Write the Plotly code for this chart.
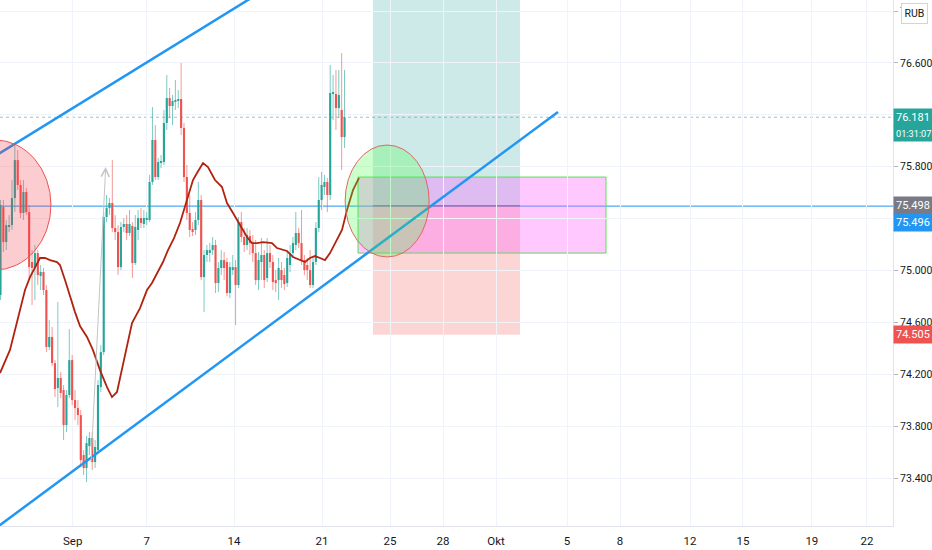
import plotly.graph_objects as go

# ---------------- data (4h candles, USD/RUB) ----------------
opens = [74.811, 75.489, 75.219, 75.335, 75.350, 75.558, 75.851, 75.659, 75.443, 75.605,
         75.450, 75.065, 75.019, 75.134, 74.957, 74.988, 74.849, 74.410, 74.487, 74.286,
         74.094, 74.171, 74.078, 73.808, 74.040, 74.309, 74.001, 73.939, 73.885, 73.577,
         73.477, 73.646, 73.708, 73.523, 73.615, 74.101, 74.371, 75.412, 75.481, 75.520,
         75.327, 75.296, 75.026, 75.335, 75.358, 75.289, 75.343, 75.057, 75.312, 75.404,
         75.358, 75.389, 75.389, 75.682, 76.006, 75.720, 75.828, 75.836, 76.137, 76.329,
         76.268, 76.306, 76.314, 76.322, 76.098, 75.720, 75.443, 75.319, 75.312, 75.389,
         75.543, 74.949, 75.119, 75.142, 75.157, 75.196, 74.903, 75.019, 75.080, 75.065,
         74.826, 75.011, 75.026, 74.888, 75.373, 75.258, 75.196, 75.265, 75.211, 75.134,
         74.926, 75.065, 75.119, 74.942, 75.134, 75.065, 74.926, 74.926, 75.003, 74.965,
         74.903, 75.042, 75.134, 75.196, 75.289, 75.211, 75.080, 75.042, 75.003, 74.888,
         75.065, 75.327, 75.543, 75.643, 75.682, 75.582, 76.368, 76.360, 76.252, 76.237,
         76.029]
highs = [75.543, 75.543, 75.389, 75.427, 75.697, 75.982, 75.928, 75.697, 75.697, 75.636,
         75.504, 75.157, 75.196, 75.157, 75.042, 75.019, 74.888, 74.618, 74.564, 74.309,
         74.757, 74.217, 74.117, 74.078, 74.548, 74.348, 74.078, 74.001, 73.924, 73.615,
         73.723, 73.754, 73.754, 73.693, 74.155, 74.425, 75.450, 75.582, 75.558, 75.851,
         75.427, 75.350, 75.373, 75.404, 75.427, 75.466, 75.373, 75.427, 75.466, 75.481,
         75.466, 75.450, 75.736, 76.260, 76.121, 75.867, 75.890, 76.237, 76.507, 76.407,
         76.353, 76.468, 76.391, 76.599, 76.137, 75.813, 75.582, 75.373, 75.450, 75.682,
         75.582, 75.157, 75.196, 75.211, 75.258, 75.235, 75.065, 75.157, 75.142, 75.096,
         75.065, 75.119, 75.080, 75.412, 75.450, 75.327, 75.327, 75.312, 75.273, 75.235,
         75.142, 75.250, 75.157, 75.250, 75.196, 75.119, 75.003, 75.096, 75.065, 75.019,
         75.142, 75.196, 75.258, 75.450, 75.327, 75.466, 75.119, 75.096, 75.157, 75.096,
         75.373, 75.720, 75.759, 75.736, 75.713, 76.584, 76.507, 76.545, 76.545, 76.676,
         76.545]
lows = [74.772, 75.142, 75.157, 75.296, 75.312, 75.450, 75.620, 75.404, 75.389, 75.427,
        74.926, 74.733, 74.772, 74.888, 74.849, 74.811, 74.371, 74.386, 74.263, 74.024,
        73.947, 74.016, 73.693, 73.754, 74.016, 73.962, 73.847, 73.808, 73.484, 73.423,
        73.369, 73.577, 73.461, 73.477, 73.600, 74.063, 74.348, 75.373, 75.427, 75.296,
        75.235, 74.965, 75.003, 75.296, 75.235, 75.265, 74.942, 75.042, 75.235, 75.327,
        75.327, 75.350, 75.373, 75.659, 75.697, 75.697, 75.790, 75.813, 76.083, 76.175,
        76.121, 76.237, 76.252, 76.044, 75.682, 75.389, 75.258, 75.265, 75.273, 75.350,
        74.926, 74.679, 75.065, 75.065, 75.119, 74.826, 74.834, 74.965, 74.926, 74.803,
        74.787, 74.965, 74.579, 74.865, 75.219, 75.142, 75.157, 75.119, 75.065, 74.888,
        74.849, 74.926, 74.865, 74.911, 75.019, 74.849, 74.834, 74.772, 74.865, 74.849,
        74.872, 74.988, 75.096, 75.157, 75.173, 75.042, 74.965, 74.926, 74.865, 74.865,
        75.042, 75.296, 75.466, 75.582, 75.450, 75.543, 76.160, 76.083, 76.175, 75.774,
        75.944]
closes = [75.504, 75.219, 75.350, 75.350, 75.558, 75.851, 75.659, 75.443, 75.605, 75.450,
          75.026, 75.019, 75.134, 74.965, 74.988, 74.849, 74.410, 74.487, 74.286, 74.086,
          74.171, 74.055, 73.808, 74.040, 74.309, 74.001, 73.939, 73.885, 73.538, 73.477,
          73.669, 73.708, 73.523, 73.639, 74.117, 74.371, 75.412, 75.481, 75.520, 75.327,
          75.296, 75.026, 75.335, 75.358, 75.289, 75.358, 75.057, 75.335, 75.404, 75.366,
          75.404, 75.404, 75.682, 76.006, 75.720, 75.836, 75.844, 76.137, 76.329, 76.268,
          76.306, 76.314, 76.322, 76.098, 75.720, 75.443, 75.312, 75.304, 75.389, 75.543,
          74.949, 75.119, 75.157, 75.157, 75.196, 74.903, 75.019, 75.080, 75.019, 74.826,
          75.026, 75.026, 74.888, 75.373, 75.258, 75.196, 75.273, 75.211, 75.134, 74.926,
          75.080, 75.119, 74.926, 75.134, 75.065, 74.911, 74.903, 75.019, 74.926, 74.895,
          75.096, 75.134, 75.211, 75.289, 75.211, 75.080, 75.003, 75.003, 74.888, 75.065,
          75.327, 75.543, 75.659, 75.682, 75.582, 76.368, 76.376, 76.252, 76.353, 76.029,
          76.181]

# displaced moving average (bar index, price)
ma_x = [-0.17, 3.31, 5.06, 6.80, 8.55, 10.29, 12.03, 13.78, 15.52, 17.27, 19.71, 20.75,
        22.50, 24.24, 25.99, 27.73, 30.17, 32.26, 34.70, 37.15, 38.89, 40.64, 42.38,
        44.12, 45.87, 48.66, 51.10, 52.84, 54.59, 56.68, 58.42, 60.52, 62.61, 65.05,
        67.14, 68.54, 70.63, 72.37, 74.82, 77.26, 79.00, 81.10, 83.54, 85.98, 87.72,
        89.47, 91.56, 94.70, 96.44, 99.93, 102.02, 104.47, 106.21, 107.95, 109.70,
        111.44, 113.19, 114.93, 117.37, 119.11, 120.86, 122.95, 125.04]
ma_y = [74.209, 74.387, 74.541, 74.695, 74.849, 74.949, 75.026, 75.096, 75.096, 75.080,
        75.065, 75.042, 74.926, 74.795, 74.679, 74.571, 74.487, 74.386, 74.232, 74.101,
        74.024, 74.063, 74.232, 74.425, 74.595, 74.710, 74.849, 74.903, 74.980, 75.065,
        75.157, 75.250, 75.366, 75.543, 75.697, 75.751, 75.828, 75.797, 75.697, 75.643,
        75.520, 75.443, 75.350, 75.258, 75.211, 75.211, 75.219, 75.211, 75.173, 75.150,
        75.104, 75.080, 75.065, 75.096, 75.111, 75.096, 75.080, 75.134, 75.235, 75.312,
        75.466, 75.620, 75.713]

# time axis (bar-index positions of day labels)
tick_pos = [25.18, 51.0, 81.45, 112.14, 135.86, 154.35, 172.83, 197.6, 216.1, 240.5,
            258.96, 283.0, 302.2]
tick_text = ["Sep", "7", "14", "21", "25", "28", "Okt", "5", "8", "12", "15", "19", "22"]
# price scale; 75.400 and 76.200 are hidden behind the price badges in the original
price_ticks = [73.4, 73.8, 74.2, 74.6, 75.0, 75.4, 75.8, 76.2, 76.6, 77.0]
price_tick_text = ["73.400", "73.800", "74.200", "74.600", "75.000", "", "75.800", "",
                   "76.600", "77.000"]

# drawings (bar index, price)
upper_channel_x = [-3.0, 94.0]
upper_channel_y = [75.867, 77.190]
lower_channel_x = [-3.0, 194.45]
lower_channel_y = [72.991, 76.222]
arrow_x = [31.57, 36.69]
arrow_y = [73.515, 75.798]
last_price = 76.181
entry_price = 75.498
stop_price = 74.505
target_price = 77.300
hline_price = 75.496
position_x = [129.9, 181.2]
zone_x = [124.7, 211.2]
zone_y = [75.134, 75.720]
green_ell_x = [120.2, 149.5]
green_ell_y = [75.104, 75.967]
red_ell_x = [-21.45, 17.6]
red_ell_y = [75.003, 76.006]

UP = "#26a69a"
DN = "#ef5350"
AXIS_FONT = "Liberation Sans Narrow, Arial Narrow, Roboto, sans-serif"

idx = list(range(len(opens)))
up_mask = [c >= o for o, c in zip(opens, closes)]

fig = go.Figure()

# wicks
for want, col in [(True, "rgba(38,166,154,0.6)"), (False, "rgba(239,83,80,0.6)")]:
    wx, wy = [], []
    for i in idx:
        if up_mask[i] == want:
            wx += [i, i, None]
            wy += [lows[i], highs[i], None]
    fig.add_trace(go.Scatter(x=wx, y=wy, mode="lines", line=dict(color=col, width=1),
                             hoverinfo="skip", showlegend=False))

# bodies
bases = [min(o, c) for o, c in zip(opens, closes)]
heights = [max(abs(c - o), 0.005) for o, c in zip(opens, closes)]
fig.add_trace(go.Bar(x=idx, y=heights, base=bases, width=0.74,
                     marker=dict(color=[UP if u else DN for u in up_mask], line=dict(width=0)),
                     showlegend=False, hoverinfo="skip"))

# moving average
fig.add_trace(go.Scatter(x=ma_x, y=ma_y, mode="lines", line=dict(color="#b0240f", width=1.8),
                         showlegend=False, hoverinfo="skip"))

# channel lines
fig.add_trace(go.Scatter(x=upper_channel_x, y=upper_channel_y, mode="lines",
                         line=dict(color="#2196f3", width=2.5), showlegend=False, hoverinfo="skip"))
fig.add_trace(go.Scatter(x=lower_channel_x, y=lower_channel_y, mode="lines",
                         line=dict(color="#2196f3", width=2.5), showlegend=False, hoverinfo="skip"))

shapes = [
    # long position tool
    dict(type="rect", xref="x", yref="y", x0=position_x[0], x1=position_x[1],
         y0=entry_price, y1=target_price, fillcolor="rgba(38,166,154,0.23)",
         line=dict(width=0), layer="below"),
    dict(type="rect", xref="x", yref="y", x0=position_x[0], x1=position_x[1],
         y0=stop_price, y1=entry_price, fillcolor="rgba(239,83,80,0.24)",
         line=dict(width=0), layer="below"),
    dict(type="line", xref="x", yref="y", x0=position_x[0], x1=position_x[1],
         y0=entry_price, y1=entry_price, line=dict(color="#787b86", width=1.5), layer="below"),
    # pink zone
    dict(type="rect", xref="x", yref="y", x0=zone_x[0], x1=zone_x[1],
         y0=zone_y[0], y1=zone_y[1], fillcolor="rgba(255,100,255,0.35)",
         line=dict(color="rgb(90,222,90)", width=1), layer="below"),
    # horizontal lines
    dict(type="line", xref="paper", yref="y", x0=0, x1=1, y0=hline_price, y1=hline_price,
         line=dict(color="#2196f3", width=1), layer="below"),
    dict(type="line", xref="paper", yref="y", x0=0, x1=1, y0=last_price, y1=last_price,
         line=dict(color="rgba(38,166,154,0.55)", width=1, dash="dot"), layer="below"),
    # ellipses
    dict(type="circle", xref="x", yref="y", x0=green_ell_x[0], x1=green_ell_x[1],
         y0=green_ell_y[0], y1=green_ell_y[1], fillcolor="rgba(59,255,59,0.26)",
         line=dict(color="#e06666", width=1), layer="above"),
    dict(type="circle", xref="x", yref="y", x0=red_ell_x[0], x1=red_ell_x[1],
         y0=red_ell_y[0], y1=red_ell_y[1], fillcolor="rgba(242,54,69,0.25)",
         line=dict(color="#ef5350", width=1), layer="above"),
]

lab_font = dict(family=AXIS_FONT, size=11, color="white")
annotations = [
    # gray arrow drawing
    dict(xref="x", yref="y", axref="x", ayref="y", x=arrow_x[1], y=arrow_y[1],
         ax=arrow_x[0], ay=arrow_y[0], text="", showarrow=True, arrowhead=5,
         arrowsize=1.6, arrowwidth=1, arrowcolor="#c4c4c4", standoff=0),
    dict(xref="paper", yref="y", x=1, y=last_price, xanchor="left", yanchor="middle",
         text="76.181", showarrow=False, bgcolor=UP, font=lab_font, borderpad=2),
    dict(xref="paper", yref="y", x=1, y=last_price, xanchor="left", yanchor="middle",
         yshift=-16, text="01:31:07", showarrow=False, bgcolor=UP, borderpad=2,
         font=dict(family=AXIS_FONT, size=9.2, color="white")),
    dict(xref="paper", yref="y", x=1, y=entry_price, xanchor="left", yanchor="middle",
         text="75.498", showarrow=False, bgcolor="#787b86", font=lab_font, borderpad=2),
    dict(xref="paper", yref="y", x=1, y=hline_price, xanchor="left", yanchor="middle",
         yshift=-16, text="75.496", showarrow=False, bgcolor="#2196f3", font=lab_font, borderpad=2),
    dict(xref="paper", yref="y", x=1, y=stop_price, xanchor="left", yanchor="middle",
         text="74.505", showarrow=False, bgcolor=DN, font=lab_font, borderpad=2),
    # white backing for the currency badge (covers the rest of the top price label)
    dict(xref="paper", yref="paper", x=1, y=1, xanchor="left", yanchor="top",
         xshift=26, yshift=0, text=" ", showarrow=False, bgcolor="white",
         width=12, height=24, borderpad=0,
         font=dict(family=AXIS_FONT, size=10, color="white")),
    dict(xref="paper", yref="paper", x=1, y=1, xanchor="left", yanchor="top",
         xshift=8, yshift=-3, text="RUB", showarrow=False, bgcolor="white",
         width=21, height=15, bordercolor="#d1d4dc", borderwidth=1, borderpad=2,
         font=dict(family=AXIS_FONT, size=10.5, color="#131722")),
]

fig.update_layout(
    width=932, height=550,
    margin=dict(l=0, r=39, t=0, b=24, pad=0),
    paper_bgcolor="white", plot_bgcolor="white",
    barmode="overlay", showlegend=False,
    shapes=shapes, annotations=annotations,
    font=dict(family=AXIS_FONT, size=11, color="#131722"),
    xaxis=dict(range=[-0.174, 311.3], tickmode="array", tickvals=tick_pos, ticktext=tick_text,
               showgrid=True, gridcolor="#f0f3fa", zeroline=False, showline=True,
               linecolor="#e0e3eb", ticks="outside", ticklen=4, tickcolor="rgba(0,0,0,0)",
               tickfont=dict(family=AXIS_FONT, size=11.5, color="#131722"), fixedrange=True),
    yaxis=dict(range=[73.030, 77.085], side="right", tickmode="array", tickvals=price_ticks,
               ticktext=price_tick_text, showgrid=True, gridcolor="#f0f3fa", zeroline=False,
               showline=True, linecolor="#e0e3eb", ticks="outside", ticklen=4,
               tickcolor="#b2b5be", tickfont=dict(family=AXIS_FONT, size=10.5, color="#131722"),
               fixedrange=True),
)

fig.write_html("out.html", config={"displayModeBar": False},
               post_script="document.body.style.margin='0';")
